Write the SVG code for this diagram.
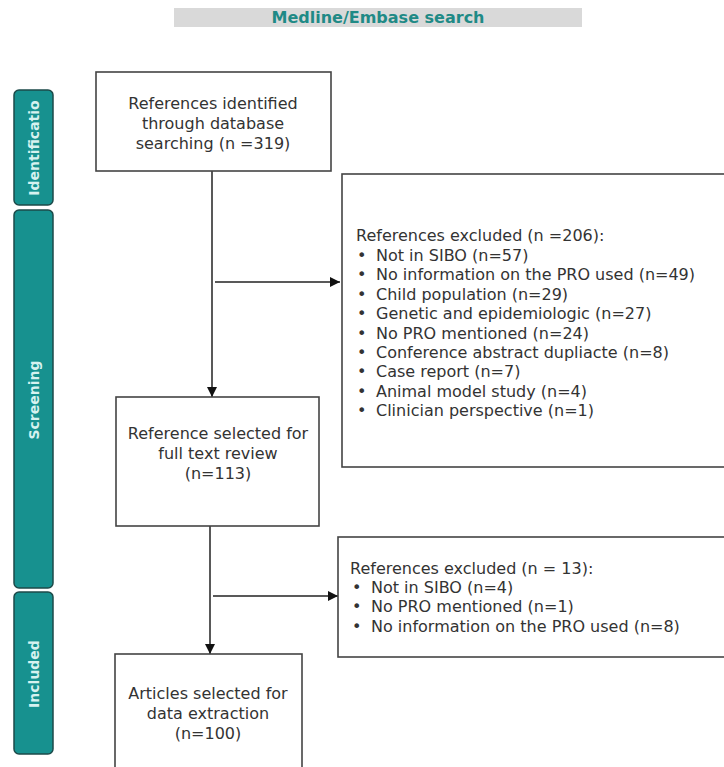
<svg xmlns="http://www.w3.org/2000/svg" width="724" height="767" viewBox="0 0 724 767">
<defs>
<marker id="arr" viewBox="0 0 10 10" refX="10" refY="5" markerWidth="10" markerHeight="10" markerUnits="userSpaceOnUse" orient="auto">
<path d="M0,0 L10,5 L0,10 z" fill="#111"/>
</marker>
</defs>
<style>
.box{fill:#fff;stroke:#444;stroke-width:1.6}
.phase{fill:#17918f;stroke:#1d4a49;stroke-width:1.5}
.ptxt{font-family:"DejaVu Sans",Verdana,sans-serif;font-size:14px;font-weight:bold;fill:#d6f2f0;text-anchor:middle}
.t{font-family:"DejaVu Sans",Verdana,sans-serif;font-size:16px;fill:#333}
.c{text-anchor:middle}
.conn{stroke:#222;stroke-width:1.5;fill:none}
</style>
<rect x="174" y="8" width="408" height="19" fill="#d9d9d9"/>
<text x="378" y="23" font-family="DejaVu Sans,Verdana,sans-serif" font-size="16px" font-weight="bold" fill="#1f8a86" text-anchor="middle">Medline/Embase search</text>

<g id="phase-identification">
<rect class="phase" x="14" y="90" width="39" height="115" rx="5"/>
<text class="ptxt" transform="translate(38.5,148) rotate(-90)">Identificatio</text>
</g>
<g id="phase-screening">
<rect class="phase" x="14" y="210" width="39" height="378" rx="5"/>
<text class="ptxt" transform="translate(38.5,400) rotate(-90)">Screening</text>
</g>
<g id="phase-included">
<rect class="phase" x="14" y="592" width="39" height="162" rx="5"/>
<text class="ptxt" transform="translate(38.5,674) rotate(-90)">Included</text>
</g>

<g id="connectors">
<line class="conn" x1="212" y1="171" x2="212" y2="397" marker-end="url(#arr)"/>
<line class="conn" x1="215" y1="282" x2="340" y2="282" marker-end="url(#arr)"/>
<line class="conn" x1="210" y1="512" x2="210" y2="654" marker-end="url(#arr)"/>
<line class="conn" x1="213" y1="596" x2="338" y2="596" marker-end="url(#arr)"/>
</g>

<g id="node-identified">
<rect class="box" x="96" y="72" width="235" height="99"/>
<text class="t c" x="213" y="109">References identified</text>
<text class="t c" x="213" y="129">through database</text>
<text class="t c" x="213" y="149">searching (n =319)</text>
</g>

<g id="node-excluded1">
<rect class="box" x="342" y="174" width="390" height="293"/>
<text class="t" x="356" y="241">References excluded (n =206):</text>
<g class="t">
<text x="357" y="261">•</text><text x="376" y="261">Not in SIBO (n=57)</text>
<text x="357" y="280">•</text><text x="376" y="280">No information on the PRO used (n=49)</text>
<text x="357" y="300">•</text><text x="376" y="300">Child population (n=29)</text>
<text x="357" y="319">•</text><text x="376" y="319">Genetic and epidemiologic (n=27)</text>
<text x="357" y="339">•</text><text x="376" y="339">No PRO mentioned (n=24)</text>
<text x="357" y="358">•</text><text x="376" y="358">Conference abstract dupliacte (n=8)</text>
<text x="357" y="377">•</text><text x="376" y="377">Case report (n=7)</text>
<text x="357" y="397">•</text><text x="376" y="397">Animal model study (n=4)</text>
<text x="357" y="416">•</text><text x="376" y="416">Clinician perspective (n=1)</text>
</g>
</g>

<g id="node-fulltext">
<rect class="box" x="116" y="397" width="203" height="129"/>
<text class="t c" x="218" y="439">Reference selected for</text>
<text class="t c" x="218" y="459">full text review</text>
<text class="t c" x="218" y="479">(n=113)</text>
</g>

<g id="node-excluded2">
<rect class="box" x="338" y="537" width="394" height="120"/>
<text class="t" x="350" y="574">References excluded (n = 13):</text>
<text class="t" x="352" y="593">•</text><text class="t" x="371" y="593">Not in SIBO (n=4)</text>
<text class="t" x="352" y="612">•</text><text class="t" x="371" y="612">No PRO mentioned (n=1)</text>
<text class="t" x="352" y="632">•</text><text class="t" x="371" y="632">No information on the PRO used (n=8)</text>
</g>

<g id="node-included">
<rect class="box" x="115" y="654" width="187" height="130"/>
<text class="t c" x="208" y="699">Articles selected for</text>
<text class="t c" x="208" y="719">data extraction</text>
<text class="t c" x="208" y="739">(n=100)</text>
</g>
</svg>
